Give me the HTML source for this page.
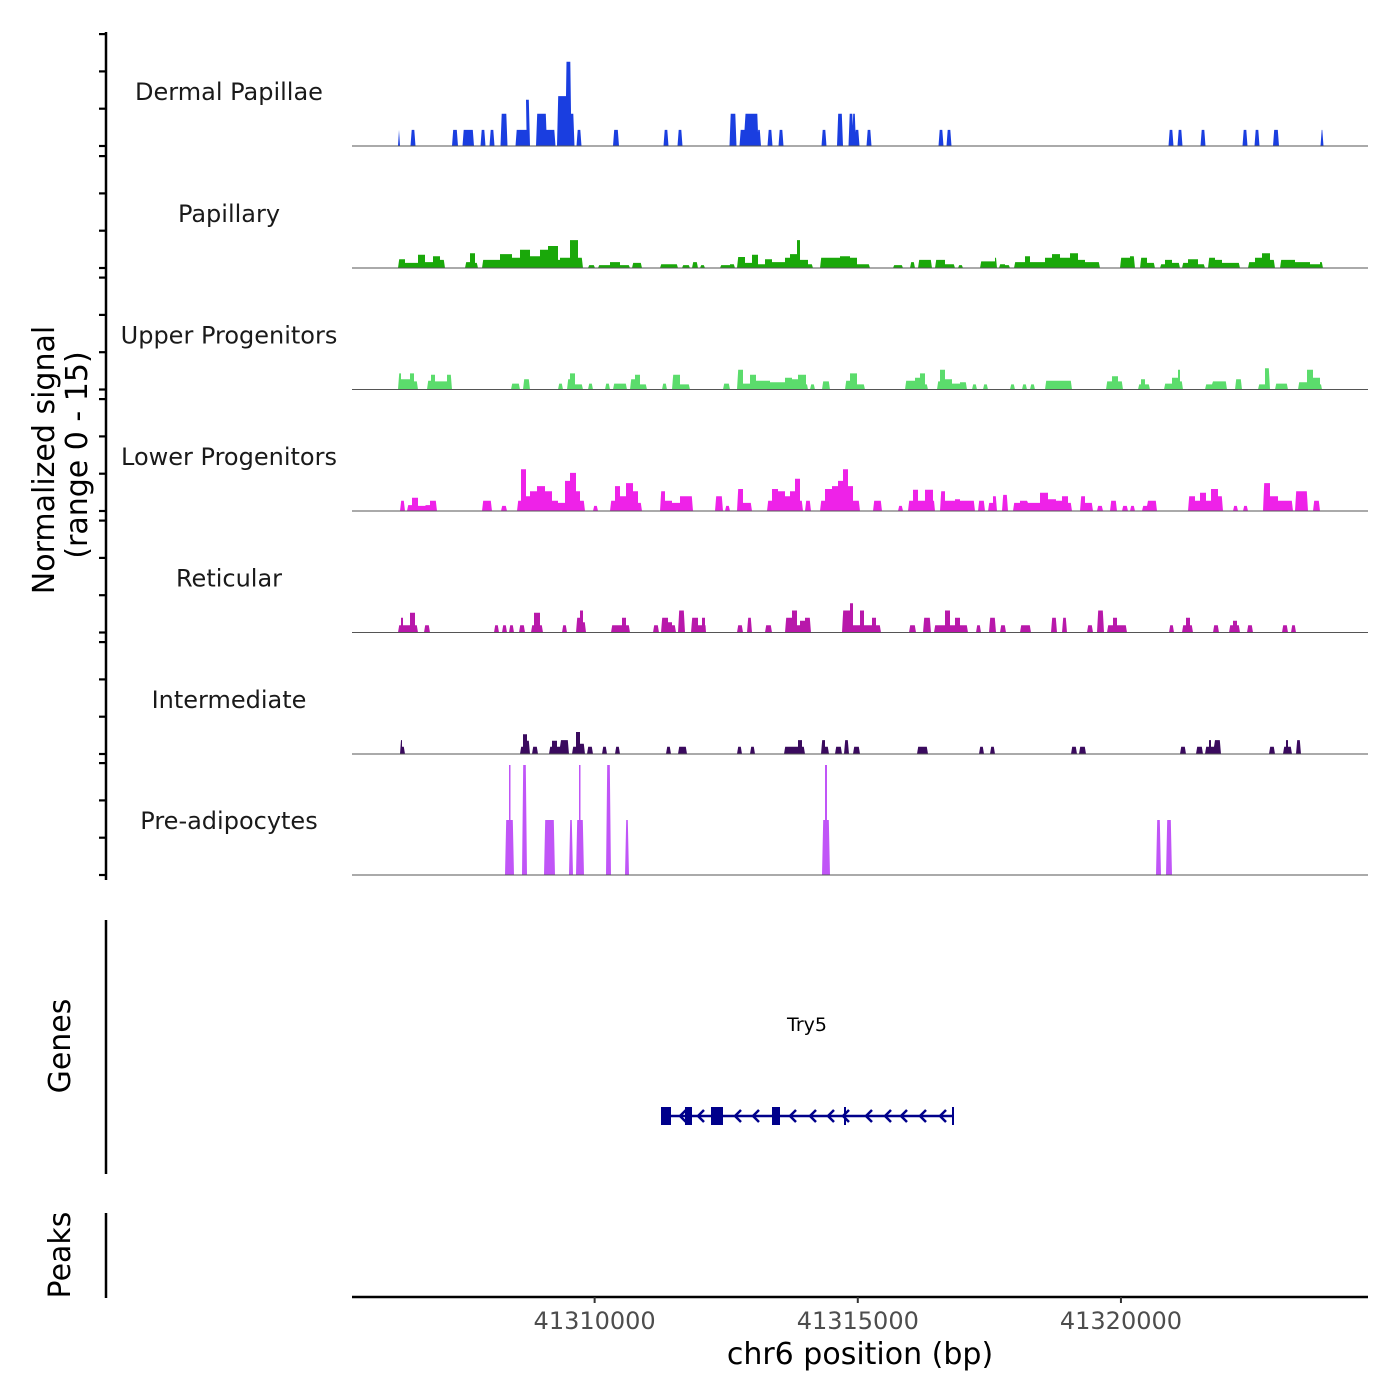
<!DOCTYPE html>
<html><head><meta charset="utf-8"><style>
html,body{margin:0;padding:0;background:#fff;}
svg{display:block;font-family:"DejaVu Sans","Liberation Sans",sans-serif;}
</style></head><body>
<svg id="chart" width="1400" height="1400" viewBox="0 0 1400 1400" xmlns="http://www.w3.org/2000/svg">
<rect x="0" y="0" width="1400" height="1400" fill="#fff"/>
<g id="tracks"></g>
<g id="labels"></g>
<g id="yaxis"></g>
<text transform="translate(54,460) rotate(-90)" text-anchor="middle" font-size="30" fill="#000">Normalized signal</text>
<text transform="translate(87,455) rotate(-90)" text-anchor="middle" font-size="30" fill="#000">(range 0 - 15)</text>
<line x1="106" y1="920" x2="106" y2="1174" stroke="#000" stroke-width="2.5"/>
<text transform="translate(70,1046) rotate(-90)" text-anchor="middle" font-size="30" fill="#000">Genes</text>
<line x1="106" y1="1213" x2="106" y2="1298" stroke="#000" stroke-width="2.5"/>
<text transform="translate(70,1255) rotate(-90)" text-anchor="middle" font-size="30" fill="#000">Peaks</text>
<g id="genes"></g>
<g id="xaxis"></g>
<text x="860" y="1364" text-anchor="middle" font-size="30" fill="#000">chr6 position (bp)</text>
</svg>
<script>
// ---- data (positions are bp offsets from REGION_START; values are normalized signal 0-15) ----
const REGION_START = 41305390;
const REGION_END = 41324690;
const xTickValues = [41310000, 41315000, 41320000];
const xTickLabels = ["41310000", "41315000", "41320000"];
const trackNames = ["Dermal Papillae","Papillary","Upper Progenitors","Lower Progenitors","Reticular","Intermediate","Pre-adipocytes"];
const trackColors = ["#1a3ee0","#1aa80a","#5bdc6c","#ee22e8","#b818aa","#3a0a5e","#c055f7"];

const dermalPapillae = [[874,912,2.2],[1112,1207,2.2],[1900,2014,2.2],[2100,2195,2.2],[2204,2318,2.2],[2442,2537,2.2],[2612,2707,2.2],[2822,2955,4.4],[3106,3201,2.2],[3220,3315,2.2],[3306,3382,6.3],[3496,3572,4.4],[3553,3629,4.4],[3629,3705,4.4],[3667,3781,2.2],[3772,3867,2.2],[3895,4009,6.8],[3990,4066,6.8],[4076,4171,11.5],[4133,4228,4.4],[4266,4361,2.2],[4959,5073,2.2],[5919,6014,2.2],[6185,6280,2.2],[7173,7306,4.4],[7363,7458,2.2],[7477,7534,4.4],[7553,7610,4.4],[7629,7724,4.4],[7695,7771,2.2],[7895,7990,2.2],[8104,8199,2.2],[8921,9016,2.2],[9215,9329,4.4],[9434,9529,4.4],[9500,9576,4.4],[9548,9643,2.2],[9776,9871,2.2],[11144,11239,2.2],[11296,11391,2.2],[15514,15609,2.2],[15685,15780,2.2],[16122,16217,2.2],[16920,17015,2.2],[17148,17243,2.2],[17499,17613,2.2],[18402,18459,2.2]];

const papillary = [[874,1007,1.2],[1007,1254,0.7],[1254,1387,1.8],[1387,1539,0.8],[1539,1672,1.6],[1672,1767,1.1],[2147,2242,0.8],[2242,2337,2.0],[2337,2394,0.7],[2470,2812,1.1],[2812,3040,1.9],[3040,3192,1.4],[3192,3382,2.5],[3382,3572,1.6],[3572,3724,2.5],[3724,3914,3.0],[3914,3952,1.1],[3952,4142,1.4],[4142,4294,3.8],[4294,4389,1.4],[4484,4617,0.4],[4674,4902,0.4],[4902,5092,0.8],[5092,5282,0.4],[5320,5510,0.7],[5852,6194,0.5],[6270,6422,0.4],[6460,6574,0.8],[6612,6707,0.4],[6992,7182,0.4],[7182,7277,0.5],[7315,7467,1.5],[7467,7600,0.7],[7600,7714,1.8],[7714,7847,0.5],[7847,7980,1.2],[7980,8227,0.8],[8227,8322,1.4],[8322,8455,1.9],[8455,8512,3.8],[8512,8664,1.1],[8664,8759,0.5],[8892,9272,1.4],[9272,9462,1.6],[9462,9595,1.4],[9595,9709,0.5],[9709,9842,0.5],[10279,10469,0.4],[10602,10697,0.8],[10754,11020,1.1],[11077,11267,1.1],[11267,11457,0.5],[11514,11609,0.4],[11932,12217,0.9],[12217,12255,1.4],[12293,12407,0.5],[12407,12502,0.4],[12578,12787,0.8],[12787,12882,1.6],[12882,13072,0.8],[13072,13167,0.8],[13167,13300,1.4],[13300,13452,1.9],[13452,13642,1.4],[13642,13794,2.0],[13794,13927,1.1],[13927,14212,0.8],[14592,14782,1.4],[14782,14877,1.6],[14972,15105,1.4],[15105,15257,0.7],[15352,15447,0.5],[15447,15580,1.1],[15580,15732,0.7],[15770,15884,0.7],[15884,16074,1.2],[16074,16207,0.5],[16264,16397,1.4],[16397,16530,1.1],[16530,16682,0.7],[16682,16872,0.7],[17024,17157,0.8],[17157,17290,1.4],[17290,17442,2.0],[17442,17537,1.1],[17632,17917,1.1],[17917,18202,0.8],[18202,18392,0.5],[18392,18449,0.8]];

const upperProgenitors = [[874,931,2.2],[931,1102,1.4],[1102,1178,2.2],[1178,1254,1.1],[1425,1501,1.2],[1501,1577,2.0],[1577,1805,1.1],[1805,1900,2.0],[3021,3192,0.8],[3249,3382,1.4],[3914,4009,0.8],[4085,4142,1.4],[4142,4237,2.2],[4237,4389,0.7],[4484,4579,0.8],[4807,4902,0.8],[4959,5225,0.8],[5282,5377,1.4],[5377,5472,2.0],[5472,5605,0.7],[5890,5985,0.8],[6080,6232,2.0],[6232,6422,0.7],[7049,7182,0.8],[7315,7429,2.7],[7429,7562,0.8],[7562,7676,2.0],[7676,7942,1.2],[7942,8227,1.0],[8227,8360,1.6],[8360,8474,1.4],[8474,8626,2.0],[8626,8664,0.7],[8702,8797,0.7],[8930,9082,1.1],[9367,9462,1.2],[9462,9595,2.2],[9595,9747,0.7],[10507,10697,1.2],[10697,10792,1.6],[10792,10887,2.2],[10887,10944,0.7],[11115,11172,1.1],[11172,11267,2.7],[11267,11400,1.4],[11400,11552,0.8],[11552,11685,1.0],[11780,11875,0.7],[11989,12084,0.7],[12502,12597,0.7],[12730,12825,0.7],[12882,12977,0.7],[13167,13680,1.2],[14326,14440,1.1],[14440,14554,1.8],[14554,14649,1.1],[14934,14991,0.7],[14991,15067,1.4],[15067,15162,0.7],[15428,15580,0.8],[15580,15694,1.6],[15694,15732,2.7],[15732,15789,1.1],[16207,16340,0.7],[16359,16625,1.1],[16777,16910,1.4],[17214,17347,0.7],[17347,17442,2.9],[17537,17784,0.8],[17974,18145,1.0],[18145,18259,2.7],[18259,18392,1.6],[18392,18430,0.7]];

const lowerProgenitors = [[912,1007,1.4],[1045,1140,0.8],[1140,1254,1.8],[1254,1387,0.7],[1406,1482,0.8],[1482,1615,1.4],[2470,2660,1.4],[2831,2945,0.7],[3135,3211,1.4],[3211,3306,5.7],[3306,3382,2.0],[3382,3515,2.7],[3515,3667,3.4],[3667,3800,2.7],[3800,3914,1.4],[3914,4047,1.1],[4047,4142,4.1],[4142,4256,5.2],[4256,4332,2.7],[4332,4427,1.4],[4579,4674,0.7],[4902,4997,1.4],[4997,5092,3.4],[5092,5206,2.0],[5206,5339,3.8],[5339,5434,2.7],[5434,5510,1.1],[5852,5947,2.7],[5947,6080,1.4],[6080,6232,1.1],[6232,6384,2.0],[6384,6479,2.0],[6897,7049,2.0],[7087,7182,0.7],[7315,7429,3.0],[7429,7600,1.1],[7885,7980,1.4],[7980,8094,3.0],[8094,8227,2.7],[8227,8322,2.0],[8322,8417,2.7],[8417,8512,4.4],[8512,8569,1.4],[8607,8721,1.4],[8892,8987,1.4],[8987,9120,3.0],[9120,9234,3.4],[9234,9329,4.1],[9329,9424,5.7],[9424,9519,3.4],[9519,9652,1.4],[9899,10070,1.4],[10374,10469,0.7],[10564,10659,1.4],[10659,10754,2.9],[10754,10887,1.4],[10887,11039,2.9],[11039,11077,1.4],[11172,11267,2.7],[11267,11457,1.4],[11457,11552,1.6],[11552,11742,1.4],[11742,11837,1.4],[11894,12027,1.4],[12084,12179,1.1],[12179,12255,2.0],[12350,12464,2.2],[12559,12692,1.1],[12692,12825,1.4],[12844,13072,1.1],[13072,13224,2.5],[13224,13376,1.6],[13376,13490,1.4],[13490,13604,2.0],[13604,13680,1.1],[13832,13927,2.0],[13927,14079,1.1],[14155,14269,0.7],[14402,14535,1.4],[14630,14744,0.7],[14782,14877,0.7],[15010,15105,0.7],[15124,15295,1.4],[15884,16017,2.0],[16017,16112,1.4],[16112,16226,2.5],[16226,16321,1.4],[16321,16454,3.0],[16454,16549,2.0],[16739,16834,0.7],[16929,17024,0.7],[17309,17442,3.8],[17442,17594,2.0],[17594,17746,1.4],[17746,17879,1.4],[17917,18164,2.7],[18259,18392,1.4]];

const reticular = [[874,931,1.0],[931,969,2.0],[969,1026,1.0],[1045,1102,1.0],[1102,1197,2.7],[1197,1254,1.0],[1368,1482,1.0],[2698,2793,1.0],[2850,2945,1.0],[2983,3078,1.0],[3173,3287,1.0],[3401,3458,1.0],[3458,3572,2.7],[3572,3629,1.0],[3990,4085,1.0],[4256,4332,2.0],[4332,4389,3.0],[4389,4446,1.4],[4921,5016,1.0],[5016,5130,1.0],[5130,5206,2.0],[5206,5282,1.0],[5719,5833,1.0],[5871,6004,2.0],[6004,6080,1.4],[6080,6156,1.0],[6194,6327,3.0],[6441,6574,2.0],[6574,6650,1.0],[6650,6707,2.0],[6707,6726,1.0],[7315,7429,1.0],[7505,7600,2.0],[7847,7980,1.0],[8227,8360,2.0],[8360,8455,3.0],[8455,8512,1.0],[8512,8607,1.6],[8607,8721,2.0],[9310,9462,3.0],[9462,9519,4.0],[9519,9652,1.0],[9652,9728,3.0],[9728,9880,1.0],[9880,9956,2.0],[9956,10051,1.0],[10583,10716,1.0],[10849,11001,2.0],[11058,11267,1.0],[11267,11362,3.0],[11362,11457,1.0],[11457,11552,2.0],[11552,11609,1.0],[11609,11704,1.0],[11856,11951,1.0],[12103,12236,2.0],[12312,12426,1.0],[12692,12901,1.0],[13281,13395,2.0],[13490,13585,2.0],[13965,14079,1.0],[14155,14288,3.0],[14345,14459,1.0],[14459,14535,2.0],[14535,14611,1.0],[14630,14725,1.0],[15523,15618,1.0],[15770,15846,1.0],[15846,15922,2.0],[15922,15979,1.0],[16359,16473,1.0],[16663,16739,1.0],[16739,16815,1.6],[16815,16872,1.0],[17005,17119,1.0],[17670,17784,1.0],[17841,17936,1.0]];

const intermediate = [[912,950,1.9],[950,1007,1.0],[3192,3249,1.0],[3249,3325,2.7],[3325,3382,1.8],[3420,3534,1.0],[3743,3800,1.0],[3800,3895,1.8],[3895,3952,1.0],[3971,4123,1.9],[4180,4256,1.0],[4256,4332,3.0],[4332,4427,1.4],[4465,4579,1.0],[4750,4845,1.0],[4997,5092,1.0],[5966,6061,1.0],[6194,6365,1.0],[7315,7410,1.0],[7562,7657,1.0],[8208,8303,1.0],[8303,8379,1.0],[8379,8474,1.0],[8474,8550,1.9],[8550,8607,1.0],[8911,8987,1.9],[8987,9063,1.0],[9177,9310,1.0],[9348,9443,1.9],[9519,9652,1.0],[10735,10944,1.0],[11913,12008,1.0],[12122,12217,1.0],[13661,13775,1.0],[13813,13946,1.0],[15732,15846,1.0],[16036,16169,1.0],[16207,16283,1.0],[16283,16321,1.9],[16321,16378,1.0],[16397,16511,1.9],[17423,17537,1.0],[17689,17746,1.0],[17746,17784,1.9],[17784,17860,1.0],[17936,18031,1.9]];

const preAdipocytes = [[2907,2983,7.5],[2983,3012,15],[3012,3078,7.5],[3230,3325,15],[3648,3743,7.5],[3762,3857,7.5],[4123,4199,7.5],[4256,4313,7.5],[4313,4342,15],[4342,4408,7.5],[4826,4921,15],[5187,5263,7.5],[8930,8987,7.5],[8987,9025,15],[9025,9082,7.5],[15276,15371,7.5],[15466,15580,7.5]];

const geneName = "Try5";
const geneStart = 5871, geneEnd = 11419;   // offsets, minus strand
const geneExons = [[5871,6061],[6327,6460],[6821,7049],[7980,8132]];
const geneTicks = [9367];
const geneChevrons = [6270,6612,7315,7657,8360,8740,9082,9367,9804,10165,10469,10830,11210];

const trackData = [dermalPapillae,papillary,upperProgenitors,lowerProgenitors,reticular,intermediate,preAdipocytes];

// ---- scales ----
const X0 = 352, X1 = 1368;
const bpPerPx = 19;
function xScaleBp(bp){ return X0 + (bp - REGION_START) / bpPerPx; }
function xScale(off){ return X0 + off / bpPerPx; }
const baselines = [146,268,389.5,511,632.5,754,875];
const PX_PER_UNIT = 110/15;
function yScale(i, v){ return baselines[i] - v*PX_PER_UNIT; }

const NS = "http://www.w3.org/2000/svg";
function mk(tag, attrs, parent){ const e=document.createElementNS(NS,tag); for(const k in attrs) e.setAttribute(k,attrs[k]); parent.appendChild(e); return e; }

const gT = document.getElementById('tracks');
const gL = document.getElementById('labels');
const gY = document.getElementById('yaxis');

trackData.forEach((segs, i) => {
  const base = baselines[i];
  const sorted = segs.slice().sort((a,b)=>a[0]-b[0]);
  let d = "";
  let prevEnd = null;
  const t = 1.2;
  sorted.forEach((s, j) => {
    const xs = xScale(s[0]), xe = xScale(s[1]);
    const y = yScale(i, s[2]);
    const next = sorted[j+1];
    const contNext = next && Math.abs(next[0]-s[1]) < 20;
    if (prevEnd === null || Math.abs(s[0]-prevEnd) >= 20) {
      d += "M" + xs.toFixed(1) + "," + base + "L" + Math.min(xs+t,(xs+xe)/2).toFixed(1) + "," + y.toFixed(1);
    } else {
      d += "L" + xs.toFixed(1) + "," + y.toFixed(1);
    }
    if (contNext) {
      d += "L" + xe.toFixed(1) + "," + y.toFixed(1);
    } else {
      d += "L" + Math.max(xe-t,(xs+xe)/2).toFixed(1) + "," + y.toFixed(1) + "L" + xe.toFixed(1) + "," + base + "Z";
    }
    prevEnd = s[1];
  });
  const p = mk('path', {d: d, fill: trackColors[i]}, gT);
  
  
  const bl = mk('line', {x1:X0, x2:X1, y1:base, y2:base, stroke:'#555', 'stroke-width':1}, gT);
  
  
  const lab = mk('text', {x:229, y:base-46, 'text-anchor':'middle', 'font-size':24, fill:'#1a1a1a'}, gL);
  lab.textContent = trackNames[i];
  
  
  for (let k=0;k<4;k++){
    const ty = base - k*37.3;
    const tk = mk('line', {x1:99, x2:106, y1:ty, y2:ty, stroke:'#000', 'stroke-width':2.2}, gY);
    
    
  }
});
const yl = mk('line', {x1:106, x2:106, y1:32, y2:880, stroke:'#000', 'stroke-width':2.5}, gY);



// ---- gene track ----
const gG = document.getElementById('genes');
const gc = '#00008b';
const gl = mk('line', {x1:xScale(geneStart), x2:xScale(geneEnd), y1:1116, y2:1116, stroke:gc, 'stroke-width':2.5}, gG);


geneExons.forEach(e => {
  const r = mk('rect', {x:xScale(e[0]), y:1107, width:xScale(e[1])-xScale(e[0]), height:18, fill:gc}, gG);
  
  
});
[geneEnd].concat(geneTicks).forEach(o => {
  const v = mk('line', {x1:xScale(o), x2:xScale(o), y1:1107, y2:1125, stroke:gc, 'stroke-width':2}, gG);
  
  
});
geneChevrons.forEach(o => {
  const x = xScale(o);
  const c = mk('path', {d:'M'+(x+4)+',1110L'+(x-2)+',1116L'+(x+4)+',1122', fill:'none', stroke:gc, 'stroke-width':2.5}, gG);
  
  
});
const gn = mk('text', {x:807, y:1031, 'text-anchor':'middle', 'font-size':19, fill:'#000'}, gG);
gn.textContent = geneName;



// ---- x axis ----
const gX = document.getElementById('xaxis');
const xl = mk('line', {x1:X0, x2:X1, y1:1297, y2:1297, stroke:'#000', 'stroke-width':2.5}, gX);


xTickValues.forEach((v, i) => {
  const x = xScaleBp(v);
  const tk = mk('line', {x1:x, x2:x, y1:1297, y2:1303, stroke:'#333', 'stroke-width':2}, gX);
  
  
  const tl = mk('text', {x:x, y:1329, 'text-anchor':'middle', 'font-size':24, fill:'#4d4d4d'}, gX);
  tl.textContent = xTickLabels[i];
  
  
});
</script>
</body></html>
